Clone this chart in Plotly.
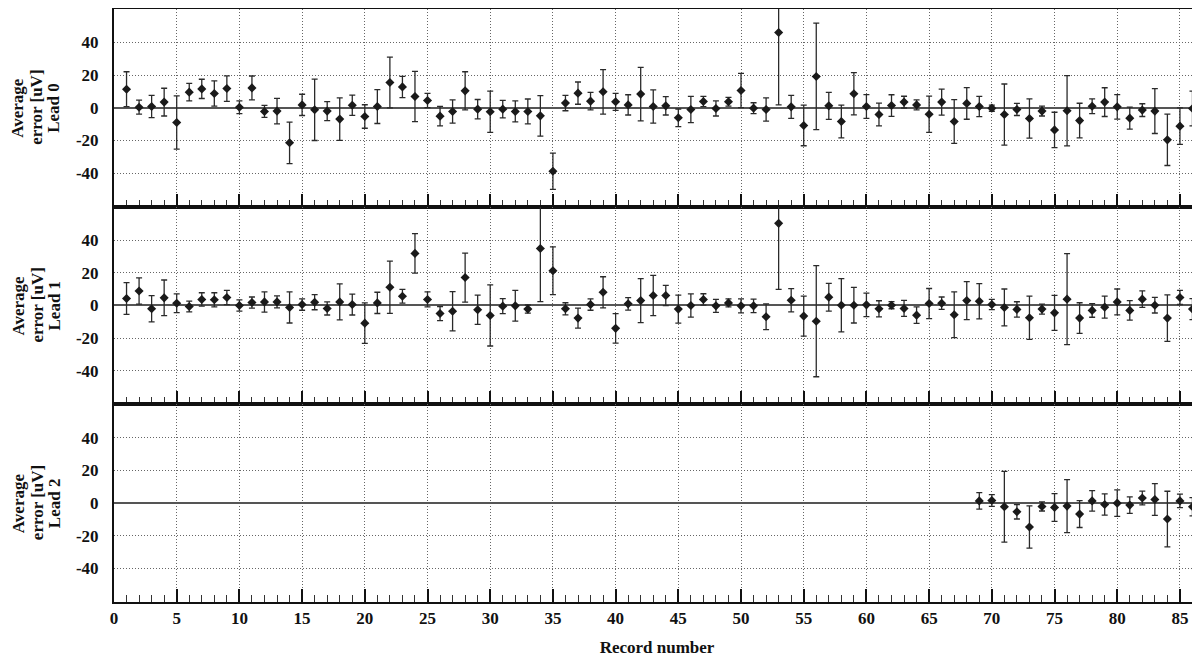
import plotly.graph_objects as go
from plotly.subplots import make_subplots

records = list(range(1, 87))

lead0_mean = [11.4, 0.4, 0.8, 3.5, -9.0, 9.6, 11.6, 8.8, 11.8, 0.4,
              12.2, -2.2, -2.0, -21.4, 1.8, -1.2, -2.0, -6.9, 1.6, -5.3,
              0.8, 15.5, 12.8, 6.9, 4.5, -5.1, -2.2, 10.4, -0.8, -2.4,
              -0.8, -2.2, -2.2, -4.9, -38.8, 2.9, 9.0, 4.1, 9.8, 3.7,
              1.8, 8.4, 0.8, 1.2, -6.1, -1.0, 3.9, -0.4, 3.7, 10.6,
              -0.2, -1.0, 46.1, 0.6, -10.8, 19.2, 1.2, -8.4, 8.6, 0.8,
              -4.1, 1.4, 3.5, 1.8, -3.9, 3.5, -8.4, 2.7, 0.8, -0.2,
              -4.1, -1.0, -6.5, -2.0, -13.5, -1.8, -7.8, 1.0, 3.5, 0.6,
              -6.3, -1.4, -2.0, -19.6, -11.2, -0.4]
lead0_err = [10.7, 4.3, 6.8, 8.5, 16.3, 5.4, 5.9, 7.7, 7.8, 3.9,
             7.3, 3.7, 7.8, 12.7, 6.5, 18.8, 5.8, 13.0, 6.2, 7.2,
             10.4, 15.5, 6.5, 15.4, 4.4, 6.0, 7.1, 11.7, 5.9, 12.6,
             5.4, 6.4, 7.6, 12.4, 11.1, 4.7, 6.8, 5.4, 13.6, 5.2,
             6.2, 16.4, 10.2, 5.6, 5.4, 8.0, 3.1, 4.6, 2.7, 10.5,
             3.3, 7.1, 44.3, 7.0, 12.4, 32.6, 8.3, 10.0, 12.9, 7.3,
             7.0, 6.6, 3.6, 3.1, 11.1, 8.0, 13.4, 9.7, 6.2, 1.9,
             18.7, 3.7, 12.0, 3.0, 10.8, 21.5, 10.6, 4.5, 8.8, 7.5,
             6.7, 3.9, 13.7, 15.7, 11.2, 10.6]

lead1_mean = [4.3, 8.9, -2.0, 4.7, 1.4, -0.6, 3.7, 3.5, 4.9, 0.0,
              1.8, 2.2, 2.2, -1.2, 0.6, 2.0, -1.8, 2.2, 0.6, -10.8,
              1.6, 11.2, 5.7, 31.9, 3.7, -4.9, -3.5, 17.1, -2.6, -6.1,
              -0.4, -0.2, -2.2, 34.9, 21.3, -2.0, -7.7, 0.6, 8.1, -14.0,
              1.0, 3.0, 6.1, 6.1, -2.2, 0.0, 3.7, -0.2, 1.6, -0.2,
              -0.2, -6.9, 50.3, 3.2, -6.5, -9.6, 5.1, 0.2, 0.2, 0.4,
              -2.0, 0.2, -1.8, -5.9, 1.2, 1.4, -5.7, 3.0, 2.6, 0.6,
              -1.2, -2.4, -7.5, -2.2, -4.5, 3.9, -7.7, -3.0, -1.0, 2.2,
              -3.0, 3.9, 0.2, -7.7, 4.9, -2.2]
lead1_err = [9.7, 8.0, 8.0, 10.9, 5.7, 3.3, 4.1, 4.3, 4.4, 3.4,
             3.4, 6.2, 3.7, 9.5, 3.5, 4.6, 4.0, 11.0, 6.4, 12.4,
             6.5, 16.0, 4.2, 12.1, 4.6, 4.3, 12.0, 15.0, 9.0, 18.7,
             4.6, 9.4, 2.5, 32.5, 14.6, 3.7, 6.1, 3.5, 9.5, 9.0,
             3.8, 13.5, 12.3, 6.2, 8.6, 7.1, 3.5, 4.0, 2.4, 4.3,
             4.1, 7.9, 40.4, 7.1, 12.3, 34.0, 8.5, 16.3, 10.9, 7.2,
             4.9, 2.2, 4.9, 5.1, 9.2, 3.8, 14.0, 11.6, 10.8, 3.1,
             11.3, 4.7, 13.2, 3.1, 10.7, 27.8, 9.4, 4.2, 6.7, 7.9,
             6.0, 5.1, 4.8, 14.2, 4.3, 6.4]

lead2_records = list(range(69, 87))
lead2_mean = [1.4, 1.6, -2.2, -5.3, -14.6, -2.0, -2.6, -1.8, -6.7, 1.4,
              -0.8, 0.0, -1.2, 3.2, 2.2, -9.7, 1.4, -2.2]
lead2_err = [5.0, 3.6, 21.6, 4.4, 12.9, 2.8, 8.5, 16.2, 8.2, 6.3,
             6.5, 8.1, 5.0, 4.2, 9.7, 17.0, 4.1, 5.6]

y_ticks = [-40, -20, 0, 20, 40]
x_ticks = list(range(0, 90, 5))
lead_names = ["Lead 0", "Lead 1", "Lead 2"]

FONT = "Liberation Serif"
W, H = 1200, 657
OFF = 8  # page body offset in the browser
ML, MR, MT, MB = 114 - OFF, OFF, 9 - OFF, 55 + OFF
GRID_DASH = "1px,2px"

fig = make_subplots(rows=3, cols=1, shared_xaxes=False, vertical_spacing=0)

series = [(records, lead0_mean, lead0_err),
          (records, lead1_mean, lead1_err),
          (lead2_records, lead2_mean, lead2_err)]

for i, (xs, ys, es) in enumerate(series, start=1):
    fig.add_trace(go.Scatter(
        x=xs, y=ys, mode="markers",
        marker=dict(symbol="diamond", size=7, color="#1a1a1a",
                    line=dict(width=0)),
        error_y=dict(type="data", array=es, visible=True,
                     color="#2a2a2a", thickness=1.3, width=3),
        showlegend=False, cliponaxis=True,
    ), row=i, col=1)

    fig.update_xaxes(
        row=i, col=1, automargin=False,
        range=[0, 86.6], tickvals=x_ticks, ticktext=[str(v) for v in x_ticks],
        showticklabels=(i == 3),
        ticks="inside", ticklen=13, tickwidth=1.5, tickcolor="#111",
        minor=dict(dtick=1, tick0=0, ticks="inside", ticklen=7,
                   tickwidth=1.2, tickcolor="#333", showgrid=False),
        showgrid=True, gridcolor="#666", griddash=GRID_DASH, gridwidth=1,
        showline=True, linecolor="#111", linewidth=2, mirror=True,
        zeroline=False,
        tickfont=dict(family=FONT, size=17, color="#111", weight="bold"),
    )
    fig.update_yaxes(
        row=i, col=1, automargin=False,
        range=[-60.5, 60.5], tickvals=y_ticks,
        ticktext=[str(v) for v in y_ticks],
        ticks="", ticklabelstandoff=10,
        showgrid=True, gridcolor="#666", griddash=GRID_DASH, gridwidth=1,
        showline=True, linecolor="#111", linewidth=2, mirror=False,
        zeroline=True, zerolinecolor="#555", zerolinewidth=2,
        tickfont=dict(family=FONT, size=17, color="#111", weight="bold"),
    )

fig.update_xaxes(row=3, col=1,
                 title=dict(text="Record number", standoff=14,
                            font=dict(family=FONT, size=17, color="#111",
                                      weight="bold")))

plot_w = W - ML - MR
line_x_px = [18 - OFF, 37 - OFF, 54 - OFF]
annotations = []
for i, name in enumerate(lead_names):
    ycenter = 1 - (i + 0.5) / 3
    lines = ["Average", "error [uV]", name]
    for lx, txt in zip(line_x_px, lines):
        annotations.append(dict(
            text=txt,
            xref="paper", yref="paper", x=(lx - ML) / plot_w, y=ycenter,
            xanchor="center", yanchor="middle", textangle=-90,
            showarrow=False, align="center",
            font=dict(family=FONT, size=17, color="#111", weight="bold"),
        ))
fig.update_layout(annotations=annotations)

fig.update_layout(
    width=W, height=H,
    margin=dict(l=ML, r=MR, t=MT, b=MB, autoexpand=False),
    paper_bgcolor="white", plot_bgcolor="white",
    font=dict(family=FONT, color="#111"),
)

fig.write_html("out.html")
